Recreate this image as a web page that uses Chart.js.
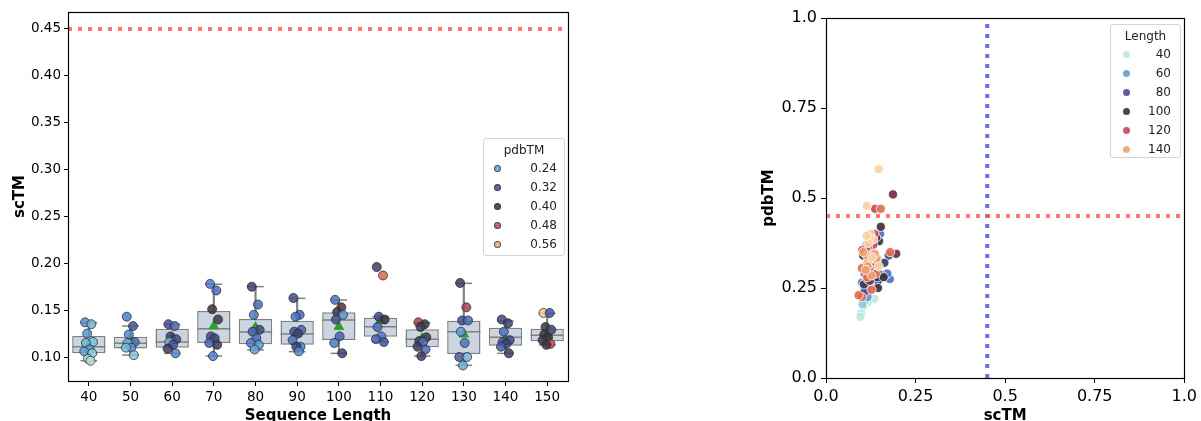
<!DOCTYPE html>
<html>
<head>
<meta charset="utf-8">
<script src="https://cdn.jsdelivr.net/npm/chart.js@4.4.1/dist/chart.umd.min.js"></script>
<style>
  html, body { margin: 0; padding: 0; background: #fff; width: 1201px; height: 421px; overflow: hidden; font-family: "DejaVu Sans", sans-serif; }
  #left { position: absolute; left: 0; top: 0; }
  #right { position: absolute; left: 740px; top: 0; }
  .legend { position: absolute; box-sizing: border-box; background: rgba(255,255,255,0.8); border: 1px solid #d4d4d4; border-radius: 3px; font-size: 12px; color: #222; padding-top: 3px; }
  .legend .title { height: 17px; line-height: 17px; text-align: center; }
  .legend .row { height: 19px; line-height: 19px; position: relative; text-align: right; }
  .legend .dot { position: absolute; top: 6px; width: 7px; height: 7px; border-radius: 50%; box-sizing: border-box; }
  #legLeft { left: 483px; top: 138px; width: 82px; height: 118px; }
  #legLeft .row { padding-right: 7px; }
  #legLeft .dot { left: 10px; border: 1px solid rgba(40,40,40,0.7); }
  #legRight { left: 1110px; top: 24px; width: 71px; height: 134px; }
  #legRight .row { padding-right: 9px; }
  #legRight .dot { left: 12px; }
</style>
</head>
<body>
<canvas id="left" width="600" height="426"></canvas>
<canvas id="right" width="461" height="426"></canvas>
<div class="legend" id="legLeft"></div>
<div class="legend" id="legRight"></div>
<script>
// sequence lengths (categories)
const lengths = [40, 50, 60, 70, 80, 90, 100, 110, 120, 130, 140, 150];

// per-design scores, one list per length
const scTM = [
  [0.137, 0.135, 0.125, 0.116, 0.115, 0.108, 0.106, 0.104, 0.098, 0.096],
  [0.143, 0.133, 0.124, 0.116, 0.115, 0.110, 0.110, 0.102],
  [0.135, 0.133, 0.122, 0.119, 0.116, 0.113, 0.109, 0.104],
  [0.178, 0.171, 0.151, 0.140, 0.122, 0.120, 0.115, 0.113, 0.101],
  [0.175, 0.156, 0.145, 0.129, 0.127, 0.120, 0.115, 0.113, 0.108],
  [0.163, 0.145, 0.143, 0.129, 0.127, 0.125, 0.118, 0.111, 0.111, 0.106],
  [0.161, 0.153, 0.148, 0.145, 0.140, 0.122, 0.115, 0.104],
  [0.196, 0.187, 0.143, 0.140, 0.132, 0.122, 0.119, 0.116],
  [0.137, 0.135, 0.132, 0.121, 0.117, 0.116, 0.111, 0.108, 0.101],
  [0.179, 0.153, 0.139, 0.139, 0.127, 0.115, 0.100, 0.100, 0.091],
  [0.140, 0.136, 0.127, 0.118, 0.116, 0.114, 0.111, 0.104],
  [0.147, 0.147, 0.132, 0.129, 0.124, 0.121, 0.118, 0.114, 0.113]
];
const pdbTM = [
  [0.26, 0.22, 0.25, 0.21, 0.225, 0.235, 0.245, 0.20, 0.18, 0.17],
  [0.27, 0.31, 0.26, 0.285, 0.23, 0.255, 0.215, 0.205],
  [0.32, 0.29, 0.345, 0.33, 0.225, 0.315, 0.355, 0.265],
  [0.275, 0.29, 0.40, 0.38, 0.325, 0.335, 0.295, 0.37, 0.265],
  [0.34, 0.285, 0.27, 0.33, 0.30, 0.29, 0.275, 0.245, 0.24],
  [0.32, 0.29, 0.28, 0.30, 0.315, 0.34, 0.285, 0.27, 0.345, 0.26],
  [0.28, 0.42, 0.38, 0.25, 0.32, 0.295, 0.275, 0.34],
  [0.345, 0.51, 0.33, 0.39, 0.29, 0.27, 0.30, 0.31],
  [0.47, 0.40, 0.37, 0.38, 0.365, 0.285, 0.36, 0.29, 0.355],
  [0.35, 0.47, 0.32, 0.29, 0.245, 0.28, 0.305, 0.225, 0.23],
  [0.33, 0.345, 0.285, 0.325, 0.31, 0.34, 0.30, 0.35],
  [0.58, 0.31, 0.385, 0.335, 0.40, 0.39, 0.375, 0.478, 0.395]
];

// box plot stats
const boxQ1 = [0.1039, 0.1092, 0.1100, 0.1150, 0.1135, 0.1132, 0.1181, 0.1217, 0.1103, 0.1032, 0.1121, 0.1167];
const boxMedian = [0.1110, 0.1146, 0.1160, 0.1302, 0.1267, 0.1245, 0.1395, 0.1324, 0.1189, 0.1270, 0.1210, 0.1231];
const boxQ3 = [0.1224, 0.1217, 0.1302, 0.1491, 0.1406, 0.1388, 0.1477, 0.1420, 0.1295, 0.1388, 0.1313, 0.1302];
const whiskerLow = [0.0960, 0.1021, 0.1039, 0.1010, 0.1075, 0.1057, 0.1039, 0.1164, 0.1010, 0.0911, 0.1039, 0.1128];
const whiskerHigh = [0.1366, 0.1331, 0.1349, 0.1776, 0.1751, 0.1626, 0.1608, 0.1430, 0.1366, 0.1786, 0.1384, 0.1466];
const boxMean = [0.1120, 0.1200, 0.1200, 0.1330, 0.1317, 0.1250, 0.1324, 0.1388, 0.1200, 0.1242, 0.1190, 0.1224];

const threshold = 0.45;
const scTMTicks = [0.10, 0.15, 0.20, 0.25, 0.30, 0.35, 0.40, 0.45];
const unitTicks = [0, 0.25, 0.5, 0.75, 1];
const pdbLegend = [0.24, 0.32, 0.40, 0.48, 0.56];
const lengthLegend = [40, 60, 80, 100, 120, 140];

// styling
const JITTER = [-0.09, 0.06, -0.04, 0.1, -0.07, 0.02, -0.11, 0.08, -0.02, 0.04];
const PDB_STOPS = [
  [0.17, '#b3e0d8'], [0.21, '#7cc0dc'], [0.24, '#5ea3d6'], [0.27, '#4d7fd0'],
  [0.31, '#4552a0'], [0.35, '#3c3c66'], [0.40, '#3d3238'], [0.44, '#6e2842'],
  [0.48, '#c0485a'], [0.52, '#e4714f'], [0.58, '#f8c597']
];
const LEN_STOPS = [
  [40, '#bfe6da'], [50, '#8ccbe0'], [60, '#5d9fd8'], [70, '#4a6fc8'],
  [80, '#474f92'], [90, '#353661'], [100, '#3a2d36'], [110, '#6e2540'],
  [120, '#c1475b'], [130, '#e06a4e'], [140, '#f0a070'], [150, '#f8cfa6']
];
const FONT = '"DejaVu Sans", sans-serif';

function hexRgb(h) {
  return [1, 3, 5].map(i => parseInt(h.slice(i, i + 2), 16));
}
function mixColor(stops, v, alpha) {
  let k = 0;
  while (k < stops.length - 2 && v > stops[k + 1][0]) k++;
  const [v0, c0] = stops[k], [v1, c1] = stops[k + 1];
  const t = Math.max(0, Math.min(1, (v - v0) / (v1 - v0)));
  const a = hexRgb(c0), b = hexRgb(c1);
  const rgb = a.map((x, i) => Math.round(x + (b[i] - x) * t));
  return `rgba(${rgb.join(',')},${alpha})`;
}

// full box around the plot area, like matplotlib spines
const framePlugin = {
  id: 'frame',
  afterDraw(chart) {
    const { ctx, chartArea: a } = chart;
    ctx.save();
    ctx.strokeStyle = '#000';
    ctx.lineWidth = 1.2;
    ctx.strokeRect(Math.round(a.left) + 0.5, Math.round(a.top) + 0.5, Math.round(a.width), Math.round(a.height));
    ctx.restore();
  }
};

function axisCommon(size, tickLen, pad) {
  return {
    border: { display: false },
    grid: { display: true, drawOnChartArea: false, drawTicks: true, tickLength: tickLen, color: '#000', lineWidth: 1 },
    ticks: { color: '#000', font: { family: FONT, size: size }, padding: pad, autoSkip: false, maxRotation: 0 }
  };
}

// ---------- left: box + strip plot ----------
const idx = lengths.map((_, i) => i);
const stripPoints = [];
idx.forEach(i => {
  scTM[i].forEach((v, j) => {
    stripPoints.push({ x: i + JITTER[j % JITTER.length], y: v, c: pdbTM[i][j] });
  });
});

const xL = axisCommon(13.5, 5, 3);
const yL = axisCommon(13.5, 4, 3);

new Chart(document.getElementById('left'), {
  type: 'bar',
  data: {
    datasets: [
      {
        type: 'line', order: 0,
        data: [{ x: -0.5, y: threshold }, { x: 11.5, y: threshold }],
        borderColor: 'rgba(255,80,80,0.8)', borderWidth: 4, borderDash: [4, 6],
        pointRadius: 0, fill: false
      },
      {
        type: 'scatter', order: 1,
        data: stripPoints,
        pointRadius: 4.5,
        pointBackgroundColor: ctx => mixColor(PDB_STOPS, ctx.raw.c, 0.85),
        pointBorderColor: 'rgba(40,40,40,0.75)', pointBorderWidth: 1
      },
      {
        type: 'scatter', order: 2,
        data: idx.map(i => ({ x: i, y: boxMean[i] })),
        pointStyle: 'triangle', pointRadius: 5.5,
        pointBackgroundColor: '#2ca02c', pointBorderColor: '#2ca02c', pointBorderWidth: 1
      },
      {
        type: 'scatter', order: 3,
        data: idx.map(i => ({ x: i, y: boxMedian[i] })),
        pointStyle: 'line', pointRadius: 16.6,
        pointBorderColor: '#808080', pointBorderWidth: 1.5
      },
      {
        type: 'scatter', order: 4,
        data: idx.flatMap(i => [{ x: i, y: whiskerLow[i] }, { x: i, y: whiskerHigh[i] }]),
        pointStyle: 'line', pointRadius: 8.3,
        pointBorderColor: '#808080', pointBorderWidth: 1.5
      },
      {
        type: 'bar', order: 5, grouped: false,
        data: idx.map(i => ({ x: i, y: [boxQ1[i], boxQ3[i]] })),
        backgroundColor: '#cad5e1', borderColor: '#808080', borderWidth: 1.5,
        borderSkipped: false, barPercentage: 0.8, categoryPercentage: 1
      },
      {
        type: 'bar', order: 6, grouped: false,
        data: idx.map(i => ({ x: i, y: [whiskerLow[i], whiskerHigh[i]] })),
        backgroundColor: '#808080', borderWidth: 0, barThickness: 1.5
      }
    ]
  },
  options: {
    responsive: false, animation: false, devicePixelRatio: 1,
    layout: { autoPadding: false, padding: { top: 12, right: 32, left: 0, bottom: 0 } },
    plugins: { legend: { display: false }, tooltip: { enabled: false } },
    scales: {
      x: {
        type: 'linear', min: -0.5, max: 11.5, offset: false,
        border: xL.border, grid: { ...xL.grid, offset: false },
        ticks: { ...xL.ticks, callback: v => lengths[v] },
        afterBuildTicks: s => { s.ticks = idx.map(v => ({ value: v })); },
        afterFit: s => { s.height = 45; },
        title: { display: true, text: 'Sequence Length', color: '#000', font: { family: FONT, size: 15, weight: 'bold' }, padding: { top: 0, bottom: 1 } }
      },
      y: {
        type: 'linear', min: 0.0744, max: 0.4681,
        border: yL.border, grid: yL.grid,
        ticks: { ...yL.ticks, callback: v => v.toFixed(2) },
        afterBuildTicks: s => { s.ticks = scTMTicks.map(v => ({ value: v })); },
        afterFit: s => { s.width = 68; },
        title: { display: true, text: 'scTM', color: '#000', font: { family: FONT, size: 15, weight: 'bold' }, padding: { top: 11, bottom: 0 } }
      }
    }
  },
  plugins: [framePlugin]
});

// ---------- right: scTM vs pdbTM scatter ----------
const scatterPoints = [];
idx.forEach(i => {
  scTM[i].forEach((v, j) => {
    scatterPoints.push({ x: v, y: pdbTM[i][j], L: lengths[i] });
  });
});
const unitLabel = v => (v === 0 ? '0.0' : v === 1 ? '1.0' : String(v));
const xR = axisCommon(16, 5, 4);
const yR = axisCommon(16, 5, 4);

new Chart(document.getElementById('right'), {
  type: 'scatter',
  data: {
    datasets: [
      {
        type: 'line', order: 0,
        data: [{ x: 0, y: threshold }, { x: 1, y: threshold }],
        borderColor: 'rgba(255,80,80,0.8)', borderWidth: 4, borderDash: [4, 6],
        pointRadius: 0, fill: false
      },
      {
        type: 'line', order: 1,
        data: [{ x: threshold, y: 0 }, { x: threshold, y: 1 }],
        borderColor: 'rgba(70,70,235,0.8)', borderWidth: 4, borderDash: [4, 6],
        pointRadius: 0, fill: false
      },
      {
        order: 2,
        data: scatterPoints,
        pointRadius: 4.6,
        pointBackgroundColor: ctx => mixColor(LEN_STOPS, ctx.raw.L, 0.9),
        pointBorderColor: '#fff', pointBorderWidth: 0.8
      }
    ]
  },
  options: {
    responsive: false, animation: false, devicePixelRatio: 1,
    layout: { autoPadding: false, padding: { top: 18, right: 15, left: 0, bottom: 0 } },
    plugins: { legend: { display: false }, tooltip: { enabled: false } },
    scales: {
      x: {
        type: 'linear', min: 0, max: 1,
        border: xR.border, grid: xR.grid,
        ticks: { ...xR.ticks, callback: unitLabel },
        afterBuildTicks: s => { s.ticks = unitTicks.map(v => ({ value: v })); },
        afterFit: s => { s.height = 48; },
        title: { display: true, text: 'scTM', color: '#000', font: { family: FONT, size: 15, weight: 'bold' }, padding: { top: 0, bottom: 1 } }
      },
      y: {
        type: 'linear', min: 0, max: 1,
        border: yR.border, grid: yR.grid,
        ticks: { ...yR.ticks, callback: unitLabel },
        afterBuildTicks: s => { s.ticks = unitTicks.map(v => ({ value: v })); },
        afterFit: s => { s.width = 86; },
        title: { display: true, text: 'pdbTM', color: '#000', font: { family: FONT, size: 15, weight: 'bold' }, padding: { top: 20, bottom: 0 } }
      }
    }
  },
  plugins: [framePlugin]
});

// ---------- legends ----------
function buildLegend(el, title, values, colorOf) {
  let html = `<div class="title">${title}</div>`;
  values.forEach(v => {
    html += `<div class="row"><span class="dot" style="background:${colorOf(v)}"></span>${v}</div>`;
  });
  el.innerHTML = html;
}
buildLegend(document.getElementById('legLeft'), 'pdbTM', pdbLegend.map(v => v.toFixed(2)), v => mixColor(PDB_STOPS, +v, 0.85));
buildLegend(document.getElementById('legRight'), 'Length', lengthLegend, v => mixColor(LEN_STOPS, v, 0.9));
</script>
</body>
</html>
